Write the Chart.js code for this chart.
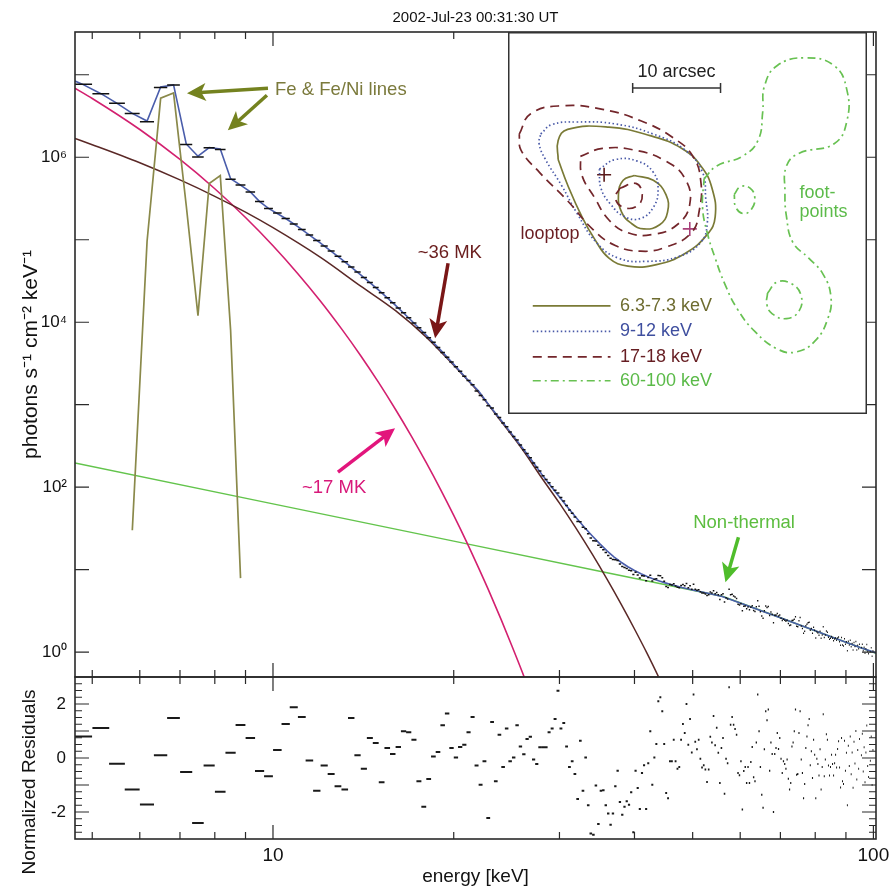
<!DOCTYPE html>
<html>
<head>
<meta charset="utf-8">
<title>2002-Jul-23 spectrum</title>
<script src="https://cdn.jsdelivr.net/npm/chart.js@4.4.1/dist/chart.umd.min.js"></script>
<style>
  body { margin: 0; background: #fff; }
  #page { position: relative; width: 894px; height: 888px; }
  canvas { position: absolute; }
  #spec { left: 0; top: 0; }
  #resid { left: 0; top: 670px; }
  #inset { left: 508px; top: 32px; }
</style>
</head>
<body>
<div id="page">
  <canvas id="spec" width="894" height="680"></canvas>
  <canvas id="resid" width="894" height="218"></canvas>
  <canvas id="inset" width="359" height="382"></canvas>
</div>
<script>
// ---- spectrum: 1/3 keV bins (centres, keV) ----
const binWidth = 1 / 3;
const binE = [4.83,
  5.17,5.5,5.83, 6.17,6.5,6.83, 7.17,7.5,7.83, 8.17,8.5,8.83, 9.17,9.5,9.83,
  10.17,10.5,10.83, 11.17,11.5,11.83, 12.17,12.5,12.83, 13.17,13.5,13.83, 14.17,14.5,14.83,
  15.17,15.5,15.83, 16.17,16.5,16.83, 17.17,17.5,17.83, 18.17,18.5,18.83, 19.17,19.5,19.83,
  20.17,20.5,20.83, 21.17,21.5,21.83, 22.17,22.5,22.83, 23.17,23.5,23.83, 24.17,24.5,24.83,
  25.17,25.5,25.83, 26.17,26.5,26.83, 27.17,27.5,27.83, 28.17,28.5,28.83, 29.17,29.5,29.83,
  30.17,30.5,30.83, 31.17,31.5,31.83, 32.17,32.5,32.83, 33.17,33.5,33.83, 34.17,34.5,34.83,
  35.17,35.5,35.83, 36.17,36.5,36.83, 37.17,37.5,37.83, 38.17,38.5,38.83, 39.17,39.5,39.83,
  40.17,40.5,40.83, 41.17,41.5,41.83, 42.17,42.5,42.83, 43.17,43.5,43.83, 44.17,44.5,44.83,
  45.17,45.5,45.83, 46.17,46.5,46.83, 47.17,47.5,47.83, 48.17,48.5,48.83, 49.17,49.5,49.83,
  50.17,50.5,50.83, 51.17,51.5,51.83, 52.17,52.5,52.83, 53.17,53.5,53.83, 54.17,54.5,54.83,
  55.17,55.5,55.83, 56.17,56.5,56.83, 57.17,57.5,57.83, 58.17,58.5,58.83, 59.17,59.5,59.83,
  60.17,60.5,60.83, 61.17,61.5,61.83, 62.17,62.5,62.83, 63.17,63.5,63.83, 64.17,64.5,64.83,
  65.17,65.5,65.83, 66.17,66.5,66.83, 67.17,67.5,67.83, 68.17,68.5,68.83, 69.17,69.5,69.83,
  70.17,70.5,70.83, 71.17,71.5,71.83, 72.17,72.5,72.83, 73.17,73.5,73.83, 74.17,74.5,74.83,
  75.17,75.5,75.83, 76.17,76.5,76.83, 77.17,77.5,77.83, 78.17,78.5,78.83, 79.17,79.5,79.83,
  80.17,80.5,80.83, 81.17,81.5,81.83, 82.17,82.5,82.83, 83.17,83.5,83.83, 84.17,84.5,84.83,
  85.17,85.5,85.83, 86.17,86.5,86.83, 87.17,87.5,87.83, 88.17,88.5,88.83, 89.17,89.5,89.83,
  90.17,90.5,90.83, 91.17,91.5,91.83, 92.17,92.5,92.83, 93.17,93.5,93.83, 94.17,94.5,94.83,
  95.17,95.5,95.83, 96.17,96.5,96.83, 97.17,97.5,97.83, 98.17,98.5,98.83, 99.17,99.5,99.83];

// observed flux, photons s^-1 cm^-2 keV^-1
const fluxObs = [7.7e6,
  5.9e6,4.5e6,3.4e6, 2.7e6,7.0e6,7.5e6, 1.43e6,1.01e6,1.30e6, 1.24e6,5.4e5,4.6e5, 3.8e5,2.9e5,2.4e5,
  2.11e5,1.81e5,1.55e5, 1.33e5,1.14e5,9.8e4, 8.4e4,7.3e4,6.3e4, 5.4e4,4.68e4,4.05e4, 3.49e4,3.03e4,2.63e4,
  2.28e4,1.98e4,1.72e4, 1.49e4,1.30e4,1.13e4, 9.8e3,8.6e3,7.5e3, 6.5e3,5.7e3,4.95e3, 4.31e3,3.77e3,3.30e3,
  2880,2540,2220, 1960,1740,1470, 1290,1150,970, 910,770,700, 600,542,468,
  413,374,325, 285,256,227, 197,174,157, 138,124,113, 101,92,85,
  75,68,60, 53,48.4,43.6, 38.4,38.0,32.7, 31.3,27.3,24.3, 22.5,22.3,19.8,
  18.7,17.5,16.1, 14.9,13.8,13.3, 13.2,12.9,11.7, 10.9,10.6,10.3, 9.83,9.69,8.75,
  9.29,8.62,7.93, 8.47,8.41,7.33, 8.04,8.55,7.29, 7.65,7.77,8.50, 8.43,8.00,7.24,
  6.27,6.10,6.60, 6.50,6.77,6.33, 6.12,6.06,6.42, 6.60,6.37,6.78, 6.04,6.38,5.79,
  6.64,5.81,5.64, 5.73,5.40,5.22, 5.20,5.08,4.88, 4.97,5.36,5.23, 5.55,5.10,5.29,
  4.95,4.36,4.95, 5.10,4.05,4.57, 4.41,5.81,4.95, 5.02,4.80,4.65, 4.48,3.81,3.72,
  3.87,3.17,3.61, 3.62,3.36,3.53, 3.27,3.50,3.65, 3.21,3.11,3.55, 4.21,3.60,3.09,
  2.75,2.58,3.18, 3.64,3.47,3.57, 2.78,3.06,2.89, 2.28,2.80,2.83, 2.95,2.74,2.83,
  2.58,2.42,2.50, 2.44,2.37,2.43, 2.22,2.11,2.13, 2.42,2.43,2.50, 2.69,2.06,2.04,
  2.41,2.64,2.07, 1.93,1.69,1.79, 2.09,2.18,2.27, 2.30,1.84,1.94, 1.69,2.01,1.85,
  1.49,1.77,1.71, 1.60,1.79,1.47, 1.61,2.04,1.51, 1.62,1.80,1.74, 1.52,1.43,1.48,
  1.55,1.47,1.38, 1.44,1.49,1.39, 1.49,1.53,1.34, 1.21,1.51,1.22, 1.19,1.45,1.25,
  1.34,1.04,1.36, 1.22,1.39,1.16, 1.27,1.06,1.31, 1.17,1.35,1.06, 1.21,1.10,1.25,
  0.96,1.14,1.25, 1.04,1.15,0.97, 1.10,1.24,1.02, 0.96,1.10,1.01, 1.13,0.89,1.04];

// normalized residuals per bin
const resid = [0.80,
  1.11,-0.21,-1.17, -1.72,0.10,1.48, -0.52,-2.41,-0.28, -1.25,0.19,1.22, 0.74,-0.48,-0.68,
  0.30,1.26,1.88, 1.52,-0.09,-1.21, -0.28,-0.59,-1.05, -1.17,1.48,0.10, -0.40,0.74,0.56,
  -0.90,0.37,0.15, 0.41,0.99,0.95, 0.68,-0.86,-1.81, -0.78,0.06,0.22, 1.21,1.65,0.37,
  0.02,0.41,0.49, 0.95,1.52,-0.28, -0.99,-0.12,-2.22, 1.33,-0.86,0.86, -0.33,1.09,-0.12,
  0.02,1.21,0.43, 0.14,0.70,0.79, -0.06,-0.22,0.40, 0.40,0.40,0.95, 1.09,1.44,2.49,
  1.09,1.30,0.43, -0.33,-0.12,-0.59, -1.52,0.64,-1.21, 0.02,-1.75,-2.80, -2.84,-1.02,-2.44,
  -1.21,-1.19,-1.75, -2.06,-2.47,-2.06, -1.05,-0.47,-1.63, -2.10,-1.81,-1.60, -1.73,-1.27,-2.75,
  -0.47,-1.11,-1.89, -0.56,-0.27,-1.89, -0.19,0.99,-0.99, 0.02,0.52,2.10, 2.25,1.73,0.52,
  -1.30,-1.49,-0.12, -0.12,0.68,-0.12, -0.40,-0.33,0.68, 1.26,0.93,2.00, 0.49,1.44,0.20,
  2.35,0.60,0.32, 0.68,-0.03,-0.35, -0.27,-0.43,-0.89, -0.43,0.79,0.57, 1.56,0.47,1.12,
  0.19,-0.93,0.37, 0.74,-1.32,-0.03, -0.19,2.62,1.23, 1.52,1.23,1.07, 0.86,-0.56,-0.64,
  -0.12,-1.91,-0.48, -0.33,-0.93,-0.33, -0.93,-0.15,0.41, -0.71,-0.86,0.57, 2.35,0.99,-0.33,
  -1.36,-1.84,0.32, 1.73,1.40,1.80, -0.47,0.57,0.15, -2.00,0.15,0.37, 0.93,0.33,0.74,
  -0.03,-0.56,-0.12, -0.22,-0.40,-0.06, -0.77,-1.17,-0.93, 0.43,0.57,0.99, 1.80,-0.62,-0.59,
  0.93,1.73,-0.06, -0.56,-1.49,-0.96, 0.37,0.80,1.21, 1.44,-0.27,0.25, -0.74,0.68,0.12,
  -1.49,-0.03,-0.22, -0.65,0.32,-1.17, -0.33,1.62,-0.68, -0.06,0.88,0.68, -0.28,-0.65,-0.33,
  0.12,-0.22,-0.65, -0.19,0.12,-0.35, 0.33,0.62,-0.35, -1.09,0.74,-0.86, -0.96,0.64,-0.47,
  0.19,-1.75,0.45, -0.30,0.80,-0.60, 0.20,-1.10,0.60, -0.20,1.00,-0.80, 0.30,-0.40,0.70,
  -1.30,0.10,0.90, -0.50,0.40,-0.90, 0.20,1.20,-0.30, -0.70,0.50,-0.10, 0.80,-1.00,0.30];

// total fitted model (blue)
const modelE = [4.68, 4.83,5.17,5.5,5.83,6.17,6.5,6.83,7.17,7.5,7.83,8.17,8.5,8.83,9.17,9.5,9.83,
  10.5,11,12,13,14,15,16,17,18,19,20,21,22,23,24,25,26,27,28,29,30,31,32,33,34,35,36,37,38,39,
  40,41,42,43,44,45,46,48,50,53,56,60,65,70,75,80,85,90,95,101];
const modelTotal = [8.4e6, 7.6e6,5.9e6,4.5e6,3.4e6,2.75e6,7.1e6,7.55e6,1.45e6,1.03e6,1.31e6,1.26e6,5.5e5,4.6e5,3.8e5,2.9e5,2.4e5,
  1.81e5,1.44e5,9.1e4,5.83e4,3.76e4,2.45e4,1.60e4,1.05e4,6.96e3,4.62e3,3.08e3,2.08e3,1.47e3,948,645,440,303,209.5,145,104,
  76.1,56.4,42.5,32.7,25.8,20.7,16.9,14.2,12.3,10.86,9.76,8.91,8.26,7.72,7.29,6.92,6.61,6.09,5.68,5.17,4.74,
  3.95,3.18,2.61,2.16,1.82,1.54,1.32,1.14,0.98];

// ~17 MK thermal component
const warmE = [4.68,5,6,7,8,9,10,11,12,13,14,15,16,17,18,19,20,21,22,23,24,25,26,27];
const warmFlux = [6.86e6,5.16e6,2.17e6,9.4e5,4.15e5,1.86e5,8.46e4,3.88e4,1.80e4,8.37e3,3.93e3,1.85e3,
  875,416,198,94.8,45.5,21.9,10.5,5.09,2.46,1.19,0.58,0.28];

// ~36 MK thermal component
const hotE = [4.68,5,6,7,8,9,10,12,14,16,18,20,22,24,26,28,30,32,34,36,38,40,42,44,46];
const hotFlux = [1.69e6,1.42e6,8.58e5,5.31e5,3.36e5,2.16e5,1.40e5,6.11e4,2.74e4,1.38e4,6.6e3,3.0e3,
  1.42e3,625,290,131,64,31.4,15.5,7.67,3.82,1.91,0.96,0.48,0.24];

// Fe and Fe/Ni line complex
const lineE = [5.83,6.17,6.5,6.83,7.17,7.5,7.83,8.17,8.5,8.83];
const lineFlux = [30,9.6e4,5.2e6,6.0e6,2.6e5,1.2e4,4.8e5,6.0e5,8.0e3,7.9];

// non-thermal broken power law
const ntE = [4.68,10,20,35.5,56.2,70,85,101];
const ntFlux = [196,62.8,22.2,9.39,4.72,2.61,1.54,0.97];

// ticks
const xTickValues = [5,6,7,8,9,10,20,30,40,50,60,70,80,90,100];
const xTickLabels = ['','','','','','10','','','','','','','','','100'];
const yTickValues = [1,10,100,1e3,1e4,1e5,1e6,1e7];
const yTickLabels = ['10\u2070','','10\u00b2','','10\u2074','','10\u2076',''];
const residTickValues = [-3,-2.75,-2.5,-2.25,-2,-1.75,-1.5,-1.25,-1,-0.75,-0.5,-0.25,0,
  0.25,0.5,0.75,1,1.25,1.5,1.75,2,2.25,2.5,2.75,3];
const residTickLabels = residTickValues.map(v => (v === -2 || v === 0 || v === 2) ? String(v) : '');

// ---- image inset: contours in arcsec ----
const c63Outer = [[4.73,13.5],[4.73,11.34],[5.81,10.07],[10.51,9.82],[15.2,10.79],[18.81,12.24],[20.97,14.22],
  [22.24,16.75],[22.6,20.0],[21.7,21.99],[19.17,24.15],[15.92,25.42],[12.67,25.6],[10.51,24.69],[8.88,22.53],
  [7.44,20.0],[5.81,16.39]];
const c63Inner = [[13.39,15.31],[15.56,15.85],[17.0,17.47],[17.18,19.46],[16.28,20.9],[14.48,21.37],[13.03,20.72],
  [11.95,19.46],[11.59,17.47],[12.13,15.85]];
const c912Outer = [[2.74,10.61],[4.01,9.53],[6.9,9.24],[11.23,9.46],[15.56,10.61],[19.17,12.42],[21.16,14.95],
  [21.52,17.83],[21.7,20.72],[20.97,22.89],[18.45,24.51],[14.84,25.05],[11.59,24.69],[9.06,22.89],[6.9,19.64],
  [5.09,16.39],[3.29,13.5],[2.56,11.7]];
const c912Inner = [[9.42,14.58],[11.23,13.5],[13.75,13.68],[15.56,14.95],[16.1,16.93],[15.56,18.92],[14.12,20.18],
  [12.31,20.0],[10.69,18.56],[9.6,16.75]];
const c1718Outer = [[0.3,10.61],[1.6,8.3],[5.09,7.4],[9.78,7.8],[14.12,9.1],[17.73,10.97],[20.07,13.14],
  [20.97,16.03],[20.79,19.28],[19.89,21.81],[17.0,23.43],[14.12,23.9],[11.23,23.25],[8.7,21.44],[5.81,18.19],
  [2.6,14.95],[0.5,12.42]];
const c1718Mid = [[7.26,13.14],[9.78,12.24],[13.39,12.42],[16.97,13.68],[19.17,15.67],[19.71,18.56],[18.27,20.9],
  [15.56,21.99],[12.67,21.81],[10.51,20.36],[8.88,17.83],[7.44,15.31]];
const c1718Inner = [[11.77,16.75],[13.57,16.21],[14.3,17.47],[13.75,18.74],[12.13,18.92],[11.23,17.83]];
const c60100 = [[21.34,15.67],[22.78,14.22],[25.67,13.14],[27.47,11.34],[28.01,8.09],[28.2,5.2],[29.64,2.85],
  [32.89,1.95],[36.14,2.85],[37.58,5.56],[37.58,9.17],[36.14,11.7],[32.17,12.78],[30.72,14.22],[30.54,17.11],
  [30.72,20.0],[31.44,22.89],[33.25,24.69],[34.87,26.5],[35.77,29.03],[35.42,31.55],[33.97,34.08],[31.8,35.34],
  [29.64,34.98],[27.11,33.0],[25.13,30.47],[23.68,27.58],[22.6,24.69],[21.7,21.81],[21.16,18.92]];
const c60100a = [[24.77,17.47],[25.49,16.57],[26.57,16.75],[27.11,17.83],[26.75,19.1],[25.85,19.64],[24.95,18.92]];
const c60100b = [[28.56,28.66],[29.64,27.4],[31.26,27.58],[32.35,28.84],[32.17,30.65],[30.72,31.55],[29.1,31.01],[28.48,29.93]];
const looptopPeak = [9.96, 15.23];
const footPeak = [19.71, 21.37];

// ---- helpers ----
const FONT = "'Liberation Sans', Arial, Helvetica, sans-serif";
Chart.defaults.font.family = FONT;
Chart.defaults.color = '#111';

function pairs(xs, ys) {
  return xs.map((x, i) => ({x: x, y: ys[i]}));
}

// horizontal bar across each energy bin, gaps between bins
function binSegments(values) {
  const pts = [];
  binE.forEach((e, i) => {
    pts.push({x: e - binWidth / 2, y: values[i]});
    pts.push({x: e + binWidth / 2, y: values[i]});
    pts.push({x: e + binWidth / 2, y: null});
  });
  return pts;
}

// box round the plot area with inward tick marks on all four sides
function framePlugin(marks) {
  return {
    id: 'frame',
    afterDraw(chart) {
      const {ctx, chartArea: a} = chart;
      ctx.save();
      ctx.strokeStyle = '#2a2a2a';
      ctx.lineWidth = 1.2;
      for (const id in marks) {
        const s = chart.scales[id];
        const m = marks[id];
        m.values.forEach(v => {
          const len = m.major.includes(v) ? 14 : 7;
          const p = s.getPixelForValue(v);
          ctx.beginPath();
          if (s.isHorizontal()) {
            if (p <= a.left + 1 || p >= a.right - 1) return;
            ctx.moveTo(p, a.bottom); ctx.lineTo(p, a.bottom - len);
            ctx.moveTo(p, a.top); ctx.lineTo(p, a.top + len);
          } else {
            if (p <= a.top + 1 || p >= a.bottom - 1) return;
            ctx.moveTo(a.left, p); ctx.lineTo(a.left + len, p);
            ctx.moveTo(a.right, p); ctx.lineTo(a.right - len, p);
          }
          ctx.stroke();
        });
      }
      ctx.lineWidth = 1.6;
      ctx.strokeRect(a.left, a.top, a.right - a.left, a.bottom - a.top);
      ctx.restore();
    }
  };
}

function drawArrow(ctx, x1, y1, x2, y2, color) {
  const ang = Math.atan2(y2 - y1, x2 - x1);
  const c = Math.cos(ang), s = Math.sin(ang);
  const head = 19, wing = 9;
  ctx.strokeStyle = color;
  ctx.fillStyle = color;
  ctx.lineWidth = 3.5;
  ctx.beginPath();
  ctx.moveTo(x1, y1);
  ctx.lineTo(x2 - head * 0.7 * c, y2 - head * 0.7 * s);
  ctx.stroke();
  ctx.beginPath();
  ctx.moveTo(x2, y2);
  ctx.lineTo(x2 - head * c + wing * s, y2 - head * s - wing * c);
  ctx.lineTo(x2 - head * 0.75 * c, y2 - head * 0.75 * s);
  ctx.lineTo(x2 - head * c - wing * s, y2 - head * s + wing * c);
  ctx.closePath();
  ctx.fill();
}

// labels and arrows, placed in (keV, flux) coordinates
const notes = [
  {text: 'Fe & Fe/Ni lines', x: 10.08, y: 6.5e6, align: 'left', color: '#7b7a3c'},
  {text: '~36 MK', x: 19.7, y: 7.0e4, align: 'center', color: '#6a1d1d'},
  {text: '~17 MK', x: 12.64, y: 97, align: 'center', color: '#d8197a'},
  {text: 'Non-thermal', x: 60.9, y: 36.6, align: 'center', color: '#5cbd3f'}
];
const arrows = [
  {from: [9.81, 6.86e6], to: [7.19, 5.97e6], color: '#74821f'},
  {from: [9.77, 5.64e6], to: [8.41, 2.12e6], color: '#74821f'},
  {from: [19.57, 5.19e4], to: [18.62, 6.4e3], color: '#7a1616'},
  {from: [12.83, 152], to: [15.97, 519], color: '#e2157c'},
  {from: [59.6, 24.8], to: [56.7, 7.06], color: '#4fbd2b'}
];

const notesPlugin = {
  id: 'notes',
  afterDatasetsDraw(chart) {
    const {ctx, scales: {x, y}} = chart;
    ctx.save();
    arrows.forEach(a => drawArrow(ctx,
      x.getPixelForValue(a.from[0]), y.getPixelForValue(a.from[1]),
      x.getPixelForValue(a.to[0]), y.getPixelForValue(a.to[1]), a.color));
    ctx.font = '18.5px ' + FONT;
    ctx.textBaseline = 'middle';
    notes.forEach(n => {
      ctx.fillStyle = n.color;
      ctx.textAlign = n.align;
      ctx.fillText(n.text, x.getPixelForValue(n.x), y.getPixelForValue(n.y));
    });
    ctx.restore();
  }
};

const tickSetter = values => scale => { scale.ticks = values.map(v => ({value: v})); };
// fixed axis sizes so both panels share the same plot edges
const fixWidth = w => s => { s.width = w; s.paddingTop = 0; s.paddingBottom = 0; };
const fixHeight = h => s => { s.height = h; s.paddingLeft = 0; s.paddingRight = 0; };

// ---- main spectrum ----
new Chart(document.getElementById('spec'), {
  type: 'line',
  data: {
    datasets: [
      {label: 'data', data: binSegments(fluxObs), borderColor: '#111', borderWidth: 1.5, pointRadius: 0, spanGaps: false},
      {label: 'total', data: pairs(modelE, modelTotal), borderColor: '#4a5dab', borderWidth: 1.6, pointRadius: 0},
      {label: 'Fe lines', data: pairs(lineE, lineFlux), borderColor: '#8a894a', borderWidth: 1.7, pointRadius: 0},
      {label: '~36 MK', data: pairs(hotE, hotFlux), borderColor: '#5a2826', borderWidth: 1.5, pointRadius: 0,
        cubicInterpolationMode: 'monotone'},
      {label: '~17 MK', data: pairs(warmE, warmFlux), borderColor: '#d3206f', borderWidth: 1.6, pointRadius: 0,
        cubicInterpolationMode: 'monotone'},
      {label: 'Non-thermal', data: pairs(ntE, ntFlux), borderColor: '#63c44c', borderWidth: 1.5, pointRadius: 0}
    ]
  },
  options: {
    responsive: false,
    animation: false,
    events: [],
    layout: {padding: {top: 0, right: 18, bottom: 3, left: 0}},
    plugins: {
      legend: {display: false},
      tooltip: {enabled: false},
      title: {
        display: true, text: '2002-Jul-23 00:31:30 UT', fullSize: false,
        font: {size: 15, weight: 'normal'}, color: '#111', padding: {top: 9, bottom: 5}
      }
    },
    scales: {
      x: {
        type: 'logarithmic', min: 4.68, max: 101,
        afterBuildTicks: tickSetter(xTickValues),
        afterFit: fixHeight(0),
        ticks: {display: false},
        grid: {display: false, drawTicks: false},
        border: {display: false}
      },
      y: {
        type: 'logarithmic', min: 0.5, max: 3.3e7,
        afterBuildTicks: tickSetter(yTickValues),
        afterFit: fixWidth(75),
        ticks: {callback: (v, i) => yTickLabels[i], autoSkip: false, padding: 8, font: {size: 17}, color: '#111'},
        grid: {display: false, drawTicks: false},
        border: {display: false},
        title: {
          display: true, text: 'photons s\u207b\u00b9 cm\u207b\u00b2 keV\u207b\u00b9',
          font: {size: 21}, color: '#111', padding: {top: 19, bottom: 0}
        }
      }
    }
  },
  plugins: [
    framePlugin({x: {values: xTickValues, major: [10, 100]}, y: {values: yTickValues, major: yTickValues}}),
    notesPlugin
  ]
});

// ---- residuals ----
const residTitle = {
  id: 'residTitle',
  afterDraw(chart) {
    const ctx = chart.ctx;
    ctx.save();
    ctx.translate(30, 112);
    ctx.rotate(-Math.PI / 2);
    ctx.font = '19px ' + FONT;
    ctx.fillStyle = '#111';
    ctx.textAlign = 'center';
    ctx.textBaseline = 'middle';
    ctx.fillText('Normalized Residuals', 0, 0);
    ctx.restore();
  }
};

new Chart(document.getElementById('resid'), {
  type: 'line',
  data: {
    datasets: [
      {label: 'residuals', data: binSegments(resid), borderColor: '#1a1a1a', borderWidth: 2, pointRadius: 0, spanGaps: false}
    ]
  },
  options: {
    responsive: false,
    animation: false,
    events: [],
    layout: {padding: {top: 7, right: 18, bottom: 0, left: 0}},
    plugins: {legend: {display: false}, tooltip: {enabled: false}},
    scales: {
      x: {
        type: 'logarithmic', min: 4.68, max: 101,
        afterBuildTicks: tickSetter(xTickValues),
        afterFit: fixHeight(49),
        ticks: {callback: (v, i) => xTickLabels[i], autoSkip: false, maxRotation: 0, padding: 5, font: {size: 19}, color: '#111'},
        grid: {display: false, drawTicks: false},
        border: {display: false},
        title: {display: true, text: 'energy [keV]', font: {size: 19}, color: '#111', padding: {top: 0, bottom: 0}}
      },
      y: {
        type: 'linear', min: -3, max: 3,
        afterBuildTicks: tickSetter(residTickValues),
        afterFit: fixWidth(75),
        ticks: {callback: (v, i) => residTickLabels[i], autoSkip: false, padding: 9, font: {size: 17}, color: '#111'},
        grid: {display: false, drawTicks: false},
        border: {display: false}
      }
    }
  },
  plugins: [
    framePlugin({x: {values: xTickValues, major: [10, 100]}, y: {values: residTickValues, major: [-2, -1, 0, 1, 2]}}),
    residTitle
  ]
});

// ---- image inset ----
const OLIVE = '#7a7a36', BLUE = '#4a5aa8', DRED = '#73262b', GREEN = '#68c152';

function contour(points, color, dash) {
  const pts = points.map(p => ({x: p[0], y: p[1]}));
  pts.push(pts[0]);
  return {data: pts, borderColor: color, borderWidth: 1.7, borderDash: dash, pointRadius: 0,
    tension: 0.45, fill: false, borderCapStyle: 'butt'};
}

const legendRows = [
  {label: '6.3-7.3 keV', color: OLIVE, text: '#6e6c30', dash: [], y: 30.1},
  {label: '9-12 keV', color: BLUE, text: '#3f4f9f', dash: [1.5, 2.5], y: 33.0},
  {label: '17-18 keV', color: DRED, text: '#661d22', dash: [9, 6], y: 35.9},
  {label: '60-100 keV', color: GREEN, text: '#5aba48', dash: [8, 4, 2, 4], y: 38.6}
];

const insetDecor = {
  id: 'insetDecor',
  beforeDraw(chart) {
    const ctx = chart.ctx;
    ctx.save();
    ctx.fillStyle = '#fff';
    ctx.fillRect(0, 0, chart.width, chart.height);
    ctx.restore();
  },
  afterDraw(chart) {
    const {ctx, scales: {x, y}} = chart;
    const px = v => x.getPixelForValue(v), py = v => y.getPixelForValue(v);
    ctx.save();
    // 10 arcsec scale bar
    ctx.strokeStyle = '#333';
    ctx.lineWidth = 1.5;
    ctx.beginPath();
    ctx.moveTo(px(13.21), py(5.38)); ctx.lineTo(px(23.21), py(5.38));
    ctx.moveTo(px(13.21), py(5.38) - 5); ctx.lineTo(px(13.21), py(5.38) + 5);
    ctx.moveTo(px(23.21), py(5.38) - 5); ctx.lineTo(px(23.21), py(5.38) + 5);
    ctx.stroke();
    ctx.font = '18px ' + FONT;
    ctx.textBaseline = 'middle';
    ctx.textAlign = 'center';
    ctx.fillStyle = '#222';
    ctx.fillText('10 arcsec', px(18.2), py(3.57));
    ctx.textAlign = 'left';
    ctx.fillStyle = '#6a1d22';
    ctx.fillText('looptop', px(0.45), py(21.9));
    ctx.fillStyle = '#5cbb4a';
    ctx.fillText('foot-', px(32.2), py(17.3));
    ctx.fillText('points', px(32.2), py(19.5));
    // legend
    legendRows.forEach(r => {
      ctx.strokeStyle = r.color;
      ctx.lineWidth = 1.7;
      ctx.setLineDash(r.dash);
      ctx.beginPath();
      ctx.moveTo(px(1.84), py(r.y)); ctx.lineTo(px(10.69), py(r.y));
      ctx.stroke();
      ctx.setLineDash([]);
      ctx.fillStyle = r.text;
      ctx.fillText(r.label, px(11.77), py(r.y));
    });
    // box
    ctx.strokeStyle = '#333';
    ctx.lineWidth = 1.5;
    ctx.strokeRect(0.75, 0.75, chart.width - 1.5, chart.height - 1.5);
    ctx.restore();
  }
};

new Chart(document.getElementById('inset'), {
  type: 'line',
  data: {
    datasets: [
      contour(c60100, GREEN, [8, 4, 2, 4]),
      contour(c60100a, GREEN, [8, 4, 2, 4]),
      contour(c60100b, GREEN, [8, 4, 2, 4]),
      contour(c1718Outer, DRED, [9, 6]),
      contour(c1718Mid, DRED, [9, 6]),
      contour(c1718Inner, DRED, [9, 6]),
      contour(c912Outer, BLUE, [1.5, 2.5]),
      contour(c912Inner, BLUE, [1.5, 2.5]),
      contour(c63Outer, OLIVE, []),
      contour(c63Inner, OLIVE, []),
      {type: 'scatter', data: [{x: looptopPeak[0], y: looptopPeak[1]}], pointStyle: 'cross', pointRadius: 7,
        borderColor: '#5a1a1a', borderWidth: 1.6},
      {type: 'scatter', data: [{x: footPeak[0], y: footPeak[1]}], pointStyle: 'cross', pointRadius: 7,
        borderColor: '#a8407a', borderWidth: 1.6}
    ]
  },
  options: {
    responsive: false,
    animation: false,
    events: [],
    layout: {padding: 0},
    plugins: {legend: {display: false}, tooltip: {enabled: false}},
    scales: {
      x: {type: 'linear', min: 0, max: 38.9, display: false},
      y: {type: 'linear', min: 0, max: 41.4, reverse: true, display: false}
    }
  },
  plugins: [insetDecor]
});
</script>
</body>
</html>
